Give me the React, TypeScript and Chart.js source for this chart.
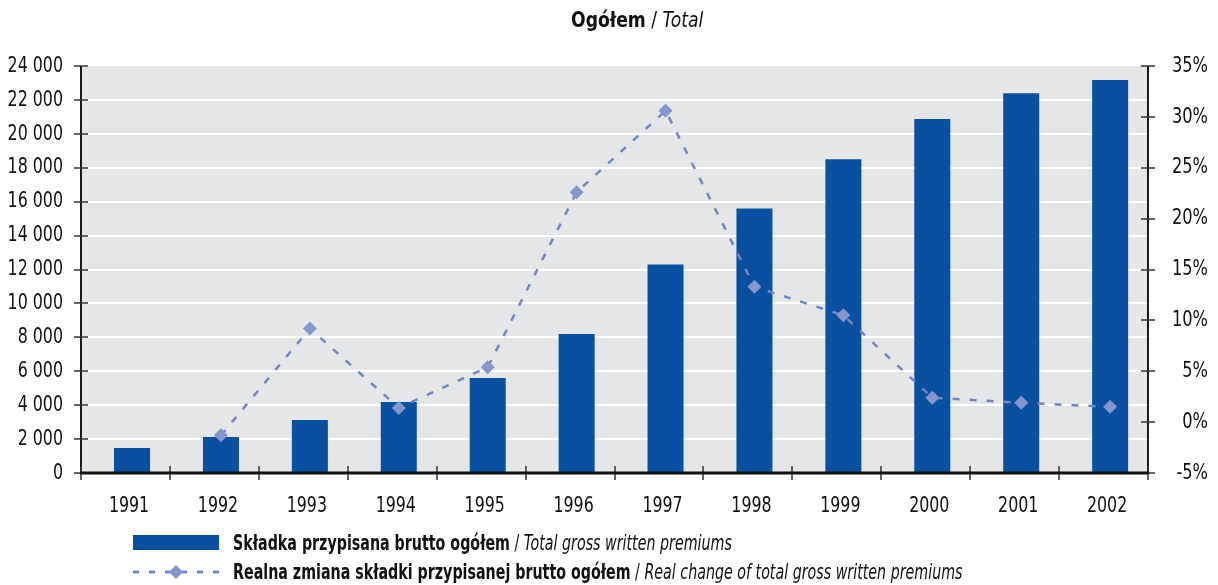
import React, { useEffect, useRef } from "react";
import { Chart, registerables } from "chart.js";

Chart.register(...registerables);

const years = ["1991", "1992", "1993", "1994", "1995", "1996", "1997", "1998", "1999", "2000", "2001", "2002"];
const premiums = [1470, 2120, 3130, 4190, 5600, 8200, 12300, 15600, 18500, 20870, 22400, 23170];
const realChange = [null, -1.3, 9.2, 1.4, 5.4, 22.6, 30.6, 13.3, 10.5, 2.4, 1.9, 1.5];

const titleBold = "Ogółem";
const titleItalic = "Total";
const legendBar = { bold: "Składka przypisana brutto ogółem", italic: "Total gross written premiums" };
const legendLine = { bold: "Realna zmiana składki przypisanej brutto ogółem", italic: "Real change of total gross written premiums" };

const FONT = '"DejaVu Sans Condensed", "DejaVu Sans", sans-serif';
const BAR_COLOR = "#0a50a0";
const LINE_COLOR = "#7386c4";
const POINT_COLOR = "#8596cd";
const BG = "#e5e6e8";
const X_MIN = -0.574;
const X_MAX = X_MIN + years.length;

const fmtThousands = (v: number) => String(v).replace(/\B(?=(\d{3})+(?!\d))/g, " ");

function drawLabel(ctx: CanvasRenderingContext2D, text: string, x: number, y: number, align: CanvasTextAlign, sx: number) {
  ctx.save();
  ctx.translate(x, y);
  ctx.scale(sx, 1);
  ctx.textAlign = align;
  ctx.textBaseline = "middle";
  ctx.fillText(text, 0, 0);
  ctx.restore();
}

const framePlugin = {
  id: "frame",
  beforeDraw(chart: any) {
    const { ctx, chartArea: a } = chart;
    ctx.save();
    ctx.fillStyle = BG;
    ctx.fillRect(a.left, a.top, a.right - a.left, a.bottom - a.top);
    ctx.restore();
  },
  afterDraw(chart: any) {
    const { ctx, chartArea: a, scales } = chart;
    ctx.save();
    ctx.strokeStyle = "#1a1a1a";
    ctx.lineWidth = 2;
    ctx.beginPath();
    ctx.moveTo(a.left, a.top);
    ctx.lineTo(a.left, a.bottom);
    ctx.stroke();
    ctx.beginPath();
    ctx.moveTo(a.right, a.top);
    ctx.lineTo(a.right, a.bottom);
    ctx.stroke();
    ctx.lineWidth = 1.5;
    ctx.strokeStyle = "#333";
    scales.y.ticks.forEach((t: any) => {
      const y = Math.round(scales.y.getPixelForValue(t.value));
      ctx.beginPath();
      ctx.moveTo(a.left - 7, y);
      ctx.lineTo(a.left + 7, y);
      ctx.stroke();
    });
    scales.y2.ticks.forEach((t: any) => {
      const y = Math.round(scales.y2.getPixelForValue(t.value));
      ctx.beginPath();
      ctx.moveTo(a.right - 7, y);
      ctx.lineTo(a.right + 7, y);
      ctx.stroke();
    });
    for (let k = 0; k <= years.length; k++) {
      const x = Math.round(scales.x.getPixelForValue(X_MIN + k));
      ctx.beginPath();
      ctx.moveTo(x, a.bottom - 7);
      ctx.lineTo(x, a.bottom + 7);
      ctx.stroke();
    }
    ctx.strokeStyle = "#111";
    ctx.lineWidth = 3;
    ctx.beginPath();
    ctx.moveTo(a.left - 1, a.bottom);
    ctx.lineTo(a.right + 1, a.bottom);
    ctx.stroke();

    ctx.fillStyle = "#111";
    ctx.font = `22px ${FONT}`;
    scales.y.ticks.forEach((t: any) => {
      drawLabel(ctx, fmtThousands(t.value), a.left - 18, scales.y.getPixelForValue(t.value), "right", 0.8);
    });
    scales.y2.ticks.forEach((t: any) => {
      drawLabel(ctx, t.value + "%", scales.y2.right, scales.y2.getPixelForValue(t.value), "right", 0.82);
    });
    years.forEach((lab, i) => {
      drawLabel(ctx, lab, scales.x.getPixelForValue(i) - 3, a.bottom + 33, "center", 0.8);
    });
    ctx.restore();
  },
};

export default function App() {
  const ref = useRef<HTMLCanvasElement | null>(null);

  useEffect(() => {
    if (!ref.current) return;
    const chart = new Chart(ref.current, {
      type: "bar",
      data: {
        datasets: [
          {
            type: "line",
            label: legendLine.bold,
            data: realChange.map((v, i) => ({ x: i, y: v })) as any,
            yAxisID: "y2",
            borderColor: LINE_COLOR,
            borderWidth: 2.5,
            borderDash: [7, 10],
            pointStyle: "rectRot",
            pointRadius: 7,
            pointBackgroundColor: POINT_COLOR,
            pointBorderWidth: 0,
            tension: 0,
            fill: false,
            order: 0,
          } as any,
          {
            type: "bar",
            label: legendBar.bold,
            data: premiums.map((v, i) => ({ x: i, y: v })) as any,
            yAxisID: "y",
            backgroundColor: BAR_COLOR,
            barPercentage: 0.405,
            categoryPercentage: 1,
            order: 1,
          } as any,
        ],
      },
      options: {
        responsive: false,
        animation: false,
        layout: { padding: { left: 0, right: 10, top: 66, bottom: 65 } },
        plugins: {
          legend: { display: false },
          title: { display: false },
          tooltip: { enabled: false },
        },
        scales: {
          x: {
            type: "linear",
            offset: false,
            min: X_MIN,
            max: X_MAX,
            grid: { display: false, drawTicks: false, offset: false },
            border: { display: false },
            ticks: { display: false },
            afterFit: (s: any) => {
              s.height = 47;
            },
          },
          y: {
            position: "left",
            min: 0,
            max: 24000,
            ticks: { stepSize: 2000, display: false },
            grid: {
              drawTicks: false,
              lineWidth: 2,
              color: (c: any) => (c.tick && (c.tick.value === 0 || c.tick.value === 24000) ? "rgba(0,0,0,0)" : "#ffffff"),
            },
            border: { display: false },
            afterFit: (s: any) => {
              s.width = 81;
            },
          },
          y2: {
            position: "right",
            min: -5,
            max: 35,
            ticks: { stepSize: 5, display: false },
            grid: { display: false, drawTicks: false },
            border: { display: false },
            afterFit: (s: any) => {
              s.width = 60;
            },
          },
        },
      },
      plugins: [framePlugin],
    });
    return () => chart.destroy();
  }, []);

  const textStyle: React.CSSProperties = {
    position: "absolute",
    whiteSpace: "nowrap",
    fontFamily: FONT,
    color: "#111",
    lineHeight: 1,
    transformOrigin: "0 50%",
  };

  return (
    <div style={{ position: "fixed", left: 0, top: 0, width: 1218, height: 585, background: "#fff" }}>
      <canvas ref={ref} width={1218} height={585} style={{ position: "absolute", left: 0, top: 0, display: "block" }} />
      <div style={{ ...textStyle, left: 571, top: 9, fontSize: 22, transform: "scaleX(0.87)" }}>
        <b>{titleBold}</b> / <i>{titleItalic}</i>
      </div>
      <div style={{ position: "absolute", left: 133, top: 535, width: 86, height: 15, background: BAR_COLOR }} />
      <div style={{ ...textStyle, left: 233, top: 532, fontSize: 22, transform: "scaleX(0.72)" }}>
        <b>{legendBar.bold}</b> / <i>{legendBar.italic}</i>
      </div>
      <svg style={{ position: "absolute", left: 130, top: 562 }} width={92} height={20}>
        <line x1={3} y1={10} x2={89} y2={10} stroke={LINE_COLOR} strokeWidth={3} strokeDasharray="6 10" />
        <polygon points="46,3 53,10 46,17 39,10" fill={POINT_COLOR} />
      </svg>
      <div style={{ ...textStyle, left: 233, top: 561, fontSize: 22, transform: "scaleX(0.72)" }}>
        <b>{legendLine.bold}</b> / <i>{legendLine.italic}</i>
      </div>
    </div>
  );
}
